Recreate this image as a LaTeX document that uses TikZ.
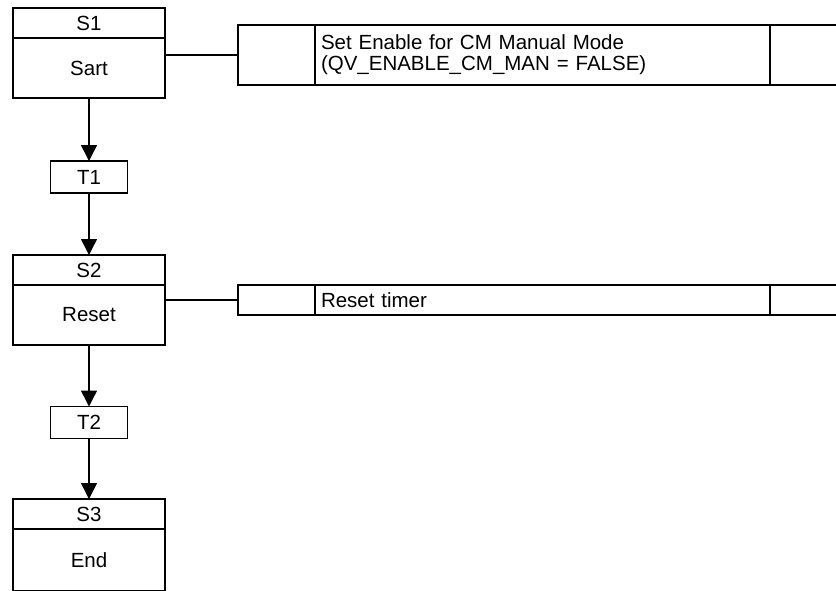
\documentclass[tikz,border=0pt]{standalone}
\usepackage{fontspec}
\setmainfont{Liberation Sans}
\usetikzlibrary{arrows.meta,positioning}

\tikzset{
  box/.style={draw, line width=1.5pt, inner sep=0pt, outer sep=0pt},
  stephead/.style={box, minimum width=152pt, minimum height=30pt},
  stepbody/.style={box, minimum width=152pt, minimum height=60pt},
  trans/.style={box, minimum width=77pt, minimum height=32pt},
  actcell/.style={box, minimum width=77pt},
  acttext/.style={box, text width=443pt, inner xsep=6pt, align=left},
  flow/.style={line width=1.5pt, -{Triangle[length=16pt,width=16pt]}},
  link/.style={line width=1.5pt},
}

\begin{document}
\begin{tikzpicture}[x=1pt,y=-1pt,font=\fontsize{20.5}{21}\selectfont]
\clip (0,0) rectangle (836,590);

% steps
\node (s1) at (89,23) [stephead] {S1};
\node (s1b) at (89,68) [stepbody] {Sart};
\node (s2) at (89,270) [stephead] {S2};
\node (s2b) at (89,315) [stepbody] {Reset};
\node (s3) at (89,514) [stephead] {S3};
\node (s3b) at (89,560) [stepbody, minimum height=62pt] {End};

% transitions
\node (t1) at (89,177) [trans] {T1};
\node (t2) at (89,422.5) [trans] {T2};

\draw[flow] (s1b.south) -- (t1.north);
\draw[flow] (t1.south) -- (s2.north);
\draw[flow] (s2b.south) -- (t2.north);
\draw[flow] (t2.south) -- (s3.north);

% actions
\node (a1q) at (276.5,55) [actcell, minimum height=60pt] {};
\node (a1) at (542.5,55) [acttext, minimum height=60pt] {Set Enable for CM Manual Mode\\(QV\_ENABLE\_CM\_MAN = FALSE)};
\node (a1r) at (815,55) [box, minimum width=90pt, minimum height=60pt] {};
\draw[link] (a1q.west) -- (a1q.west -| s1b.east);

\node (a2q) at (276.5,300) [actcell, minimum height=30pt] {};
\node (a2) at (542.5,300) [acttext, minimum height=30pt] {Reset timer};
\node (a2r) at (815,300) [box, minimum width=90pt, minimum height=30pt] {};
\draw[link] (a2q.west) -- (a2q.west -| s2b.east);
\end{tikzpicture}
\end{document}
